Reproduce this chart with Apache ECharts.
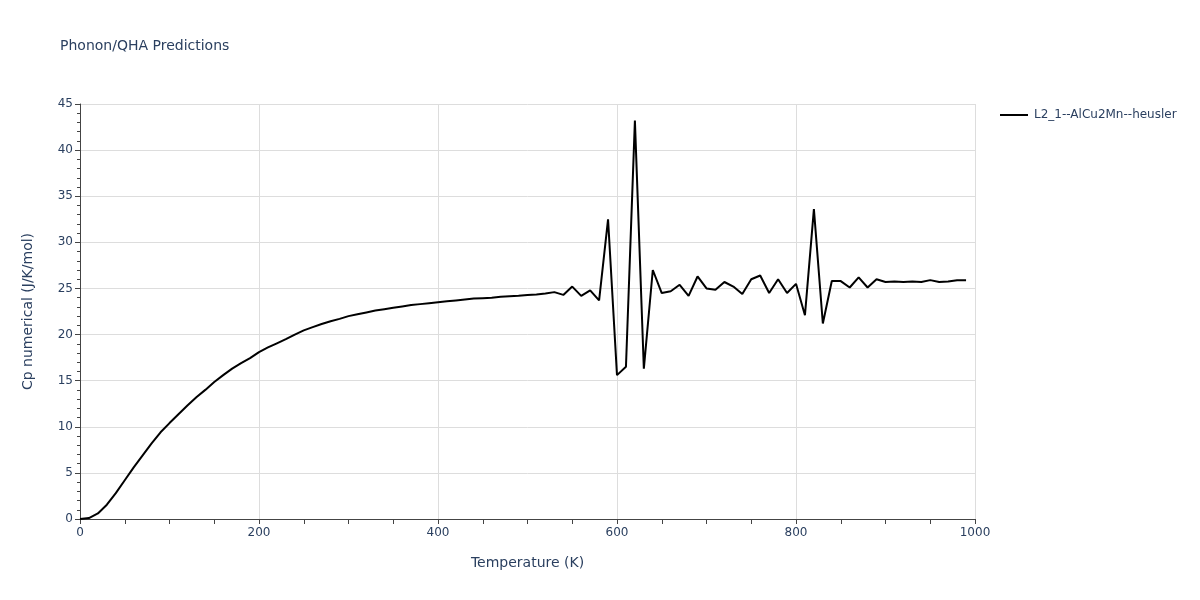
<!DOCTYPE html>
<html>
<head>
<meta charset="utf-8">
<script src="https://cdn.jsdelivr.net/npm/echarts@6/dist/echarts.min.js"></script>
<style>html,body{margin:0;padding:0;background:#fff}#chart{width:1200px;height:600px}</style>
</head>
<body>
<div id="chart"></div>
<script>
const seriesName = 'L2_1--AlCu2Mn--heusler';
const temperatures = [0,10,20,30,40,50,60,70,80,90,100,110,120,130,140,150,160,170,180,190,
  200,210,220,230,240,250,260,270,280,290,300,310,320,330,340,350,360,370,380,390,
  400,410,420,430,440,450,460,470,480,490,500,510,520,530,540,550,560,570,580,590,
  600,610,620,630,640,650,660,670,680,690,700,710,720,730,740,750,760,770,780,790,
  800,810,820,830,840,850,860,870,880,890,900,910,920,930,940,950,960,970,980,990];
const cpValues = [0,0.1,0.6,1.55,2.8,4.2,5.6,6.9,8.2,9.4,10.4,11.35,12.3,13.2,14.0,14.85,15.6,16.3,16.9,17.45,
  18.1,18.6,19.05,19.5,20.0,20.45,20.8,21.15,21.45,21.7,22.0,22.2,22.4,22.6,22.75,22.9,23.05,23.2,23.3,23.4,
  23.5,23.6,23.7,23.8,23.9,23.95,24.0,24.1,24.15,24.2,24.3,24.35,24.45,24.6,24.3,25.2,24.2,24.8,23.7,32.5,
  15.6,16.5,43.2,16.3,27.0,24.5,24.7,25.4,24.2,26.3,25.0,24.85,25.7,25.2,24.4,26.0,26.4,24.5,26.0,24.5,
  25.5,22.1,33.6,21.2,25.8,25.8,25.1,26.2,25.1,26.0,25.7,25.75,25.7,25.75,25.7,25.9,25.7,25.75,25.9,25.9];
const xTicks = {min: 0, max: 1000, interval: 200};
const yTicks = {min: 0, max: 45, interval: 5};

const textColor = '#2a3f5f';
const font = '"DejaVu Sans", Verdana, sans-serif';
const chart = echarts.init(document.getElementById('chart'), null, {renderer: 'canvas'});
chart.setOption({
  animation: false,
  backgroundColor: '#fff',
  title: {
    text: 'Phonon/QHA Predictions',
    left: 55, top: 34,
    textStyle: {color: textColor, fontSize: 14, fontWeight: 'normal', fontFamily: font}
  },
  legend: {
    left: 995, top: 104,
    itemWidth: 28, itemHeight: 2, itemGap: 10,
    icon: 'rect',
    textStyle: {color: textColor, fontSize: 12, fontFamily: font, padding: [0, 0, 0, 1]},
    data: [{name: seriesName, icon: 'rect'}]
  },
  grid: {left: 80, right: 225, top: 104, bottom: 81, containLabel: false},
  xAxis: {
    type: 'value',
    min: xTicks.min, max: xTicks.max, interval: xTicks.interval,
    name: 'Temperature (K)', nameLocation: 'middle', nameGap: 37,
    nameTextStyle: {color: textColor, fontSize: 14, fontFamily: font},
    axisLine: {show: true, lineStyle: {color: '#444', width: 1}},
    axisTick: {show: true, length: 5, lineStyle: {color: '#444'}},
    minorTick: {show: true, splitNumber: 4, length: 5, lineStyle: {color: '#444'}},
    axisLabel: {color: textColor, fontSize: 12, fontFamily: font, margin: 8, formatter: v => String(v)},
    splitLine: {show: true, lineStyle: {color: '#dddddd', width: 1}}
  },
  yAxis: {
    type: 'value',
    min: yTicks.min, max: yTicks.max, interval: yTicks.interval,
    name: 'Cp numerical (J/K/mol)', nameLocation: 'middle', nameGap: 45,
    nameTextStyle: {color: textColor, fontSize: 14, fontFamily: font},
    axisLine: {show: true, lineStyle: {color: '#444', width: 1}},
    axisTick: {show: true, length: 5, lineStyle: {color: '#444'}},
    minorTick: {show: true, splitNumber: 5, length: 3, lineStyle: {color: '#444'}},
    axisLabel: {color: textColor, fontSize: 12, fontFamily: font, margin: 7, formatter: v => String(v)},
    splitLine: {show: true, lineStyle: {color: '#dddddd', width: 1}}
  },
  series: [{
    name: seriesName,
    type: 'line',
    data: temperatures.map((t, i) => [t, cpValues[i]]),
    showSymbol: false,
    symbol: 'none',
    lineStyle: {color: '#000', width: 2},
    itemStyle: {color: '#000'}
  }]
});
</script>
</body>
</html>
